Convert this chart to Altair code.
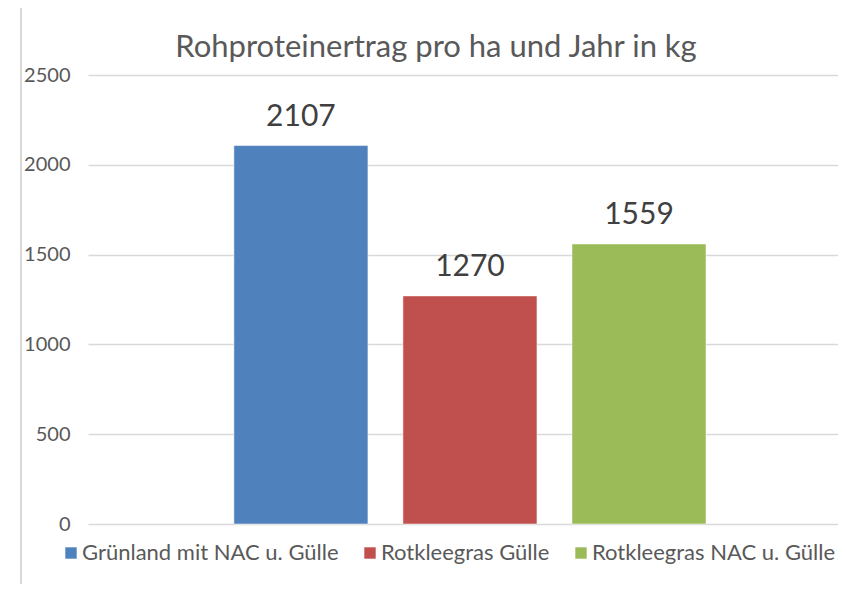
import altair as alt
import pandas as pd

categories = ["Grünland mit NAC u. Gülle", "Rotkleegras Gülle", "Rotkleegras NAC u. Gülle"]
values = [2107, 1270, 1559]
colors = ["#4f81bd", "#c0504d", "#9bbb59"]
y_ticks = [0, 500, 1000, 1500, 2000, 2500]
title_text = "Rohproteinertrag pro ha und Jahr in kg"

df = pd.DataFrame({"cat": categories, "val": values})

FONT = "Lato"
GRAY = "#595959"

x_enc = alt.X("cat:N", sort=categories, axis=None,
              scale=alt.Scale(paddingInner=0.207, paddingOuter=0.822, align=0.525))
y_enc = alt.Y("val:Q", scale=alt.Scale(domain=[0, 2500], nice=False),
              axis=alt.Axis(values=y_ticks, title=None, ticks=False, domain=False,
                            format="d",
                            grid=True, gridColor="#d9d9d9", gridWidth=1.5,
                            labelFont=FONT, labelFontSize=20, labelColor=GRAY,
                            labelPadding=18))

bars = alt.Chart(df).mark_bar(stroke="white", strokeWidth=0.5).encode(
    x=x_enc,
    y=y_enc,
    color=alt.Color("cat:N", sort=categories,
                    scale=alt.Scale(domain=categories, range=colors),
                    legend=alt.Legend(title=None, orient="none", direction="horizontal",
                                      legendX=-28, legendY=467,
                                      symbolType="square", symbolSize=130,
                                      symbolStrokeWidth=0, labelOffset=0,
                                      labelFont=FONT, labelFontSize=22, labelColor=GRAY,
                                      columnPadding=20, labelLimit=400)),
)

labels = alt.Chart(df).mark_text(font=FONT, fontSize=30, color="#404040",
                                 baseline="bottom", dy=-14).encode(
    x=x_enc, y=y_enc, text=alt.Text("val:Q", format="d"))

title = alt.Chart(pd.DataFrame({"t": [title_text]})).mark_text(
    font=FONT, fontSize=31, color=GRAY, baseline="middle", align="center").encode(
    x=alt.value(348), y=alt.value(-27), text="t:N")

border = alt.Chart(pd.DataFrame({"a": [0]})).mark_rule(color="#d9d9d9", strokeWidth=2).encode(
    x=alt.value(-67), y=alt.value(-67), y2=alt.value(520))

chart = alt.layer(border, bars, labels, title).properties(
    width=750, height=449,
    autosize=alt.AutoSizeParams(type="none"),
    padding={"left": 80, "top": 67, "right": 0, "bottom": 60},
).configure(background="white").configure_view(stroke=None)

chart.save("out.html", embed_options={"renderer": "svg", "actions": False})
